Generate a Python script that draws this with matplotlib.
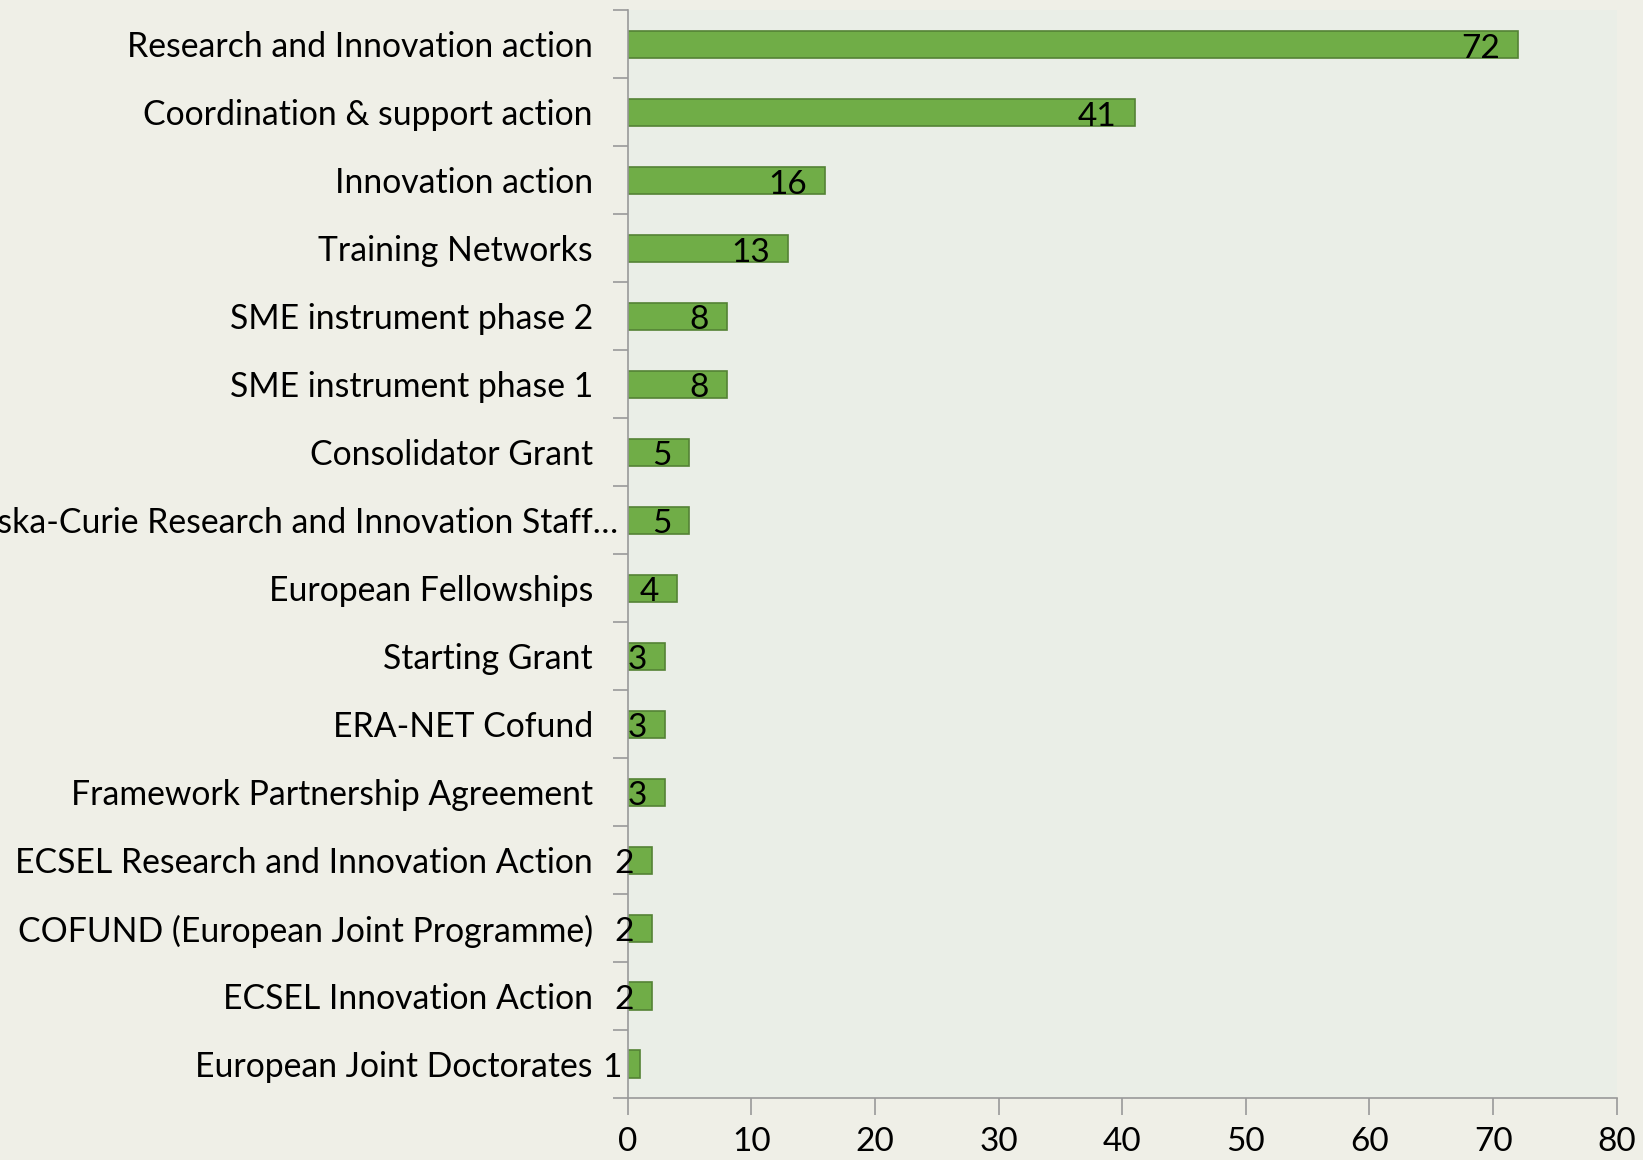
import numpy as np
import matplotlib.pyplot as plt
from matplotlib.transforms import ScaledTranslation

categories = [
    "Research and Innovation action",
    "Coordination & support action",
    "Innovation action",
    "Training Networks",
    "SME instrument phase 2",
    "SME instrument phase 1",
    "Consolidator Grant",
    "Marie Skłodowska-Curie Research and Innovation Staff…",
    "European Fellowships",
    "Starting Grant",
    "ERA-NET Cofund",
    "Framework Partnership Agreement",
    "ECSEL Research and Innovation Action",
    "COFUND (European Joint Programme)",
    "ECSEL Innovation Action",
    "European Joint Doctorates",
]
counts = [72, 41, 16, 13, 8, 8, 5, 5, 4, 3, 3, 3, 2, 2, 2, 1]
xticks = [0, 10, 20, 30, 40, 50, 60, 70, 80]

plt.rcParams['font.family'] = ['Lato', 'DejaVu Sans']

fig = plt.figure(figsize=(16.43, 11.6), dpi=100, facecolor='#EFEFE7')
ax = fig.add_axes([0.382, 0.0534, 0.602, 0.9376])
ax.set_facecolor('#EAEEE7')

y = np.arange(len(categories))
ax.barh(y, counts, height=0.4, color='#70AD47', edgecolor='#548235', linewidth=1.2, zorder=2)

ax.set_ylim(len(categories) - 0.5, -0.5)
ax.set_xlim(0, 80)

ax.set_yticks(y)
ax.set_yticklabels(categories, fontsize=24.3)
ax.tick_params(axis='y', which='major', length=0, pad=25)
ax.set_yticks(np.arange(len(categories) + 1) - 0.5, minor=True)
ax.tick_params(axis='y', which='minor', length=11, color='#999999', width=1.2)

ax.set_xticks(xticks)
ax.set_xticklabels([str(v) for v in xticks], fontsize=24)
ax.tick_params(axis='x', length=12, color='#999999', width=1.2, pad=9)

for side in ['top', 'right']:
    ax.spines[side].set_visible(False)
for side in ['left', 'bottom']:
    ax.spines[side].set_color('#999999')
    ax.spines[side].set_linewidth(1.2)

# truncated long label sits closer to the axis
lab = ax.get_yticklabels()[7]
lab.set_transform(lab.get_transform() + ScaledTranslation(0.25, 0, fig.dpi_scale_trans))

for yi, v in zip(y, counts):
    ax.annotate(str(v), (v, yi), xytext=(-13, -3), textcoords='offset points',
                ha='right', va='center', fontsize=24, zorder=3)

fig.savefig('out.png', dpi=100, facecolor=fig.get_facecolor())
